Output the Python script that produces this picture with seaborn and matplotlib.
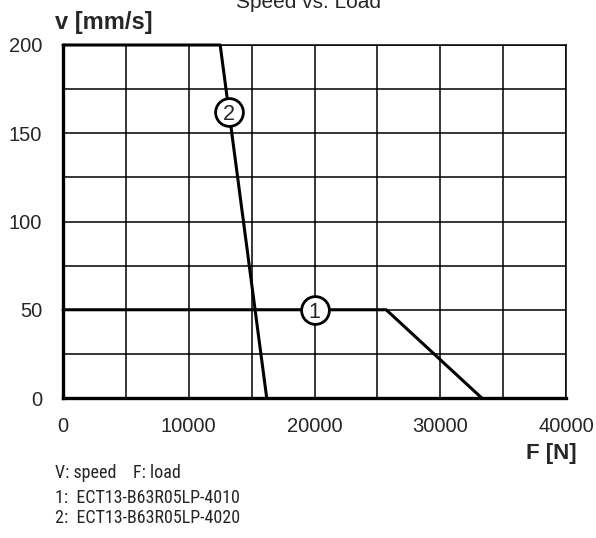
import numpy as np
import pandas as pd
import matplotlib
matplotlib.use("Agg")
import matplotlib.pyplot as plt
from matplotlib import font_manager
import seaborn as sns

# ---- data ----
load_1 = [0, 25700, 33300]
speed_1 = [50, 50, 0]
load_2 = [0, 12500, 16200]
speed_2 = [200, 200, 0]
curve_ids = ["1", "2"]
label_load = [20000, 13200]
label_speed = [50, 162]
x_ticks = [0, 10000, 20000, 30000, 40000]
y_ticks = [0, 50, 100, 150, 200]
footnotes = ["V: speed    F: load", "1:  ECT13-B63R05LP-4010", "2:  ECT13-B63R05LP-4020"]

sns.set_style("white")
plt.rcParams["font.family"] = ["Liberation Sans", "DejaVu Sans"]

df = pd.concat([
    pd.DataFrame({"F": load_1, "v": speed_1, "curve": curve_ids[0]}),
    pd.DataFrame({"F": load_2, "v": speed_2, "curve": curve_ids[1]}),
])

fig = plt.figure(figsize=(5.96, 5.38), dpi=100)
ax = fig.add_axes([63 / 596, 1 - 398 / 538, 503 / 596, 353 / 538])

sns.lineplot(data=df, x="F", y="v", units="curve", estimator=None, sort=False,
             color="black", linewidth=2.2, ax=ax, zorder=3, legend=False)
for ln in ax.lines:
    ln.set_clip_on(False)

ax.set_xlim(0, 40000)
ax.set_ylim(0, 200)
ax.set_xticks(x_ticks)
ax.set_yticks(y_ticks)
ax.set_xticks(np.arange(0, 40001, 5000), minor=True)
ax.set_yticks(np.arange(0, 201, 25), minor=True)
ax.grid(which="both", color="black", linewidth=1.1)
ax.tick_params(which="both", length=0, labelsize=14.5)
ax.tick_params(axis="x", pad=14)
ax.tick_params(axis="y", pad=15)
ax.set_xlabel("")
ax.set_ylabel("")
for s in ["top", "right"]:
    ax.spines[s].set_linewidth(1.1)
    ax.spines[s].set_color("black")
for s in ["left", "bottom"]:
    ax.spines[s].set_linewidth(2.4)
    ax.spines[s].set_color("black")
    ax.spines[s].set_zorder(4)

# circle labels
ax.plot(label_load, label_speed, linestyle="none", marker="o", markersize=20,
        markerfacecolor="white", markeredgecolor="black", markeredgewidth=2,
        zorder=5, clip_on=False)
for lx, ly, t in zip(label_load, label_speed, curve_ids):
    ax.text(lx, ly, t, ha="center", va="center_baseline", fontsize=15.5, zorder=6)

fig.text(308 / 596, 1 - 8 / 538, "Speed vs. Load", ha="center", va="baseline", fontsize=15)
fig.text(55 / 596, 1 - 22 / 538, "v [mm/s]", ha="left", va="center", fontsize=17, fontweight="bold")
fig.text(577 / 596, 1 - 453 / 538, "F [N]", ha="right", va="center", fontsize=16, fontweight="bold")

available = {f.name for f in font_manager.fontManager.ttflist}
narrow_fam = None
for cand in ["Liberation Sans Narrow", "Roboto Condensed", "Open Sans Condensed", "DejaVu Sans Condensed"]:
    if cand in available:
        narrow_fam = cand
        break
if narrow_fam is not None:
    foot_family, foot_size = [narrow_fam, "DejaVu Sans"], 13
else:
    foot_family, foot_size = ["Liberation Sans", "DejaVu Sans"], 11.2

for txt, yy in zip(footnotes, [473, 498, 518]):
    fig.text(55 / 596, 1 - yy / 538, txt, ha="left", va="center", fontsize=foot_size, family=foot_family)

fig.savefig("out.png", dpi=100)
